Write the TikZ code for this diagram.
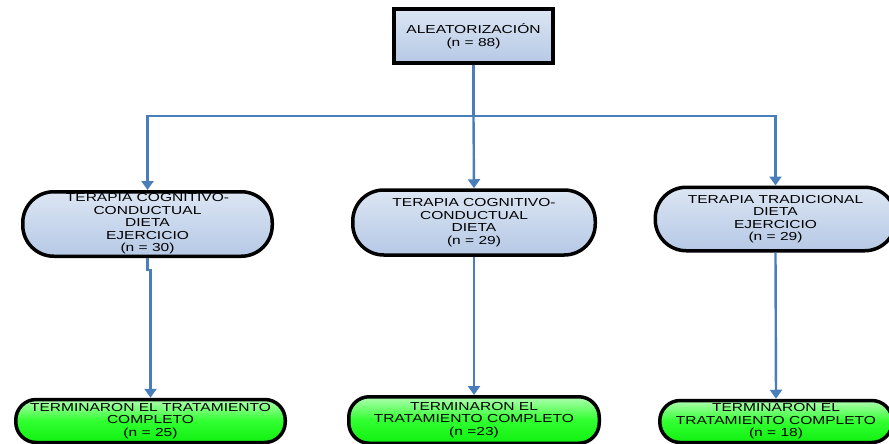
\documentclass[tikz,border=0pt]{standalone}
\usepackage{fontspec}
\setmainfont[FakeStretch=1.34]{Liberation Sans}
\usetikzlibrary{arrows.meta}
\definecolor{linkblue}{HTML}{4A7EBB}
\definecolor{paletop}{HTML}{DCE6F3}
\definecolor{palebot}{HTML}{B5C8E5}
\definecolor{greentop}{HTML}{B0FFB0}
\definecolor{greenmid}{HTML}{30FF30}
\definecolor{greenbot}{HTML}{10F010}
\tikzset{
  boxtext/.style={font=\fontsize{11.6}{12.5}\selectfont, align=center, inner sep=0pt},
  headbox/.style={boxtext, draw=black, line width=3.8pt, top color=paletop, bottom color=palebot,
    minimum width=159.5pt, minimum height=54.5pt},
  armpill/.style={boxtext, draw=black, line width=3.5pt, top color=paletop, bottom color=palebot,
    rounded corners=31pt},
  endpill/.style={boxtext, draw=black, line width=3.5pt, top color=greentop, bottom color=greenbot,
    middle color=greenmid, rounded corners=20.5pt},
  link/.style={draw=linkblue, line width=2.4pt},
  arrowlink/.style={link, -{Triangle[width=12pt,length=9pt]}}
}
\begin{document}
\begin{tikzpicture}[x=1pt, y=-1pt]
  \useasboundingbox (0,0) rectangle (889,444);
  \clip (0,0) rectangle (889,444);
  \fill[white] (0,0) rectangle (889,444);

  % randomisation box
  \node[headbox] (rand) at (473.5,36) {ALEATORIZACIÓN\\(n = 88)};

  % treatment arms
  \node[armpill, minimum width=249.5pt, minimum height=64.5pt] (armA) at (147.5,224)
    {TERAPIA COGNITIVO-\\CONDUCTUAL\\DIETA\\EJERCICIO\\(n = 30)};
  \node[armpill, minimum width=242.5pt, minimum height=65pt] (armB) at (474,222.5)
    {TERAPIA COGNITIVO-\\CONDUCTUAL\\DIETA\\(n = 29)};
  \node[armpill, minimum width=240.5pt, minimum height=63.5pt] (armC) at (775.5,219)
    {TERAPIA TRADICIONAL\\DIETA\\EJERCICIO\\(n = 29)};

  % completers
  \node[endpill, minimum width=269.5pt, minimum height=43pt] (endA) at (150.5,421)
    {TERMINARON EL TRATAMIENTO\\COMPLETO\\(n = 25)};
  \node[endpill, minimum width=250.5pt, minimum height=46.5pt] (endB) at (474,420)
    {TERMINARON EL\\TRATAMIENTO COMPLETO\\(n =23)};
  \node[endpill, minimum width=232.5pt, minimum height=42pt] (endC) at (776,421.5)
    {TERMINARON EL\\TRATAMIENTO COMPLETO\\(n = 18)};

  % branching connectors
  \coordinate (split) at (473.5,116);
  \draw[link] (rand.south) -- (split);
  \draw[arrowlink] (split) -| (armA.north);
  \draw[arrowlink] (split) -- (armB.north);
  \draw[arrowlink] (split) -| (armC.north);

  % arm to completers
  \draw[arrowlink] (armA.south) -- ++(0,12) -| (endA.north);
  \draw[arrowlink] (armB.south) -- (endB.north);
  \draw[arrowlink] (armC.south) -- (endC.north);
\end{tikzpicture}
\end{document}
